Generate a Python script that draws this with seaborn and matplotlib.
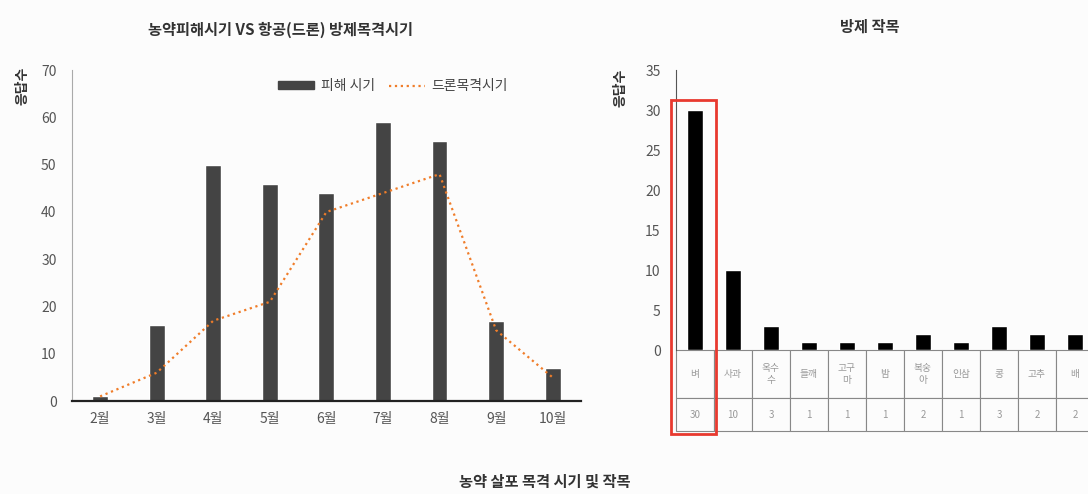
import seaborn as sns
import matplotlib.pyplot as plt
from matplotlib.patches import Rectangle, Patch
from matplotlib.lines import Line2D

sns.set_style('white')
plt.rcParams['font.family'] = ['Noto Sans CJK KR', 'DejaVu Sans']

# data
months = ['2월', '3월', '4월', '5월', '6월', '7월', '8월', '9월', '10월']
damage = [1, 16, 50, 46, 44, 59, 55, 17, 7]
drone_seen = [1, 6, 17, 21, 40, 44, 48, 15, 5]

crops = ['벼', '사과', '옥수\n수', '들깨', '고구\n마', '밤', '복숭\n아', '인삼', '콩', '고추', '배']
crop_counts = [30, 10, 3, 1, 1, 1, 2, 1, 3, 2, 2]

bar_gray = '#444444'
orange = '#f07d2a'
tick_gray = '#555555'

fig = plt.figure(figsize=(10.88, 4.94), dpi=100)
fig.patch.set_facecolor('#fcfcfc')

# left: damage period vs drone sighting
ax1 = fig.add_axes([0.066, 0.188, 0.468, 0.670])
ax1.set_facecolor('#fcfcfc')
sns.barplot(x=months, y=damage, color=bar_gray, width=0.28, ax=ax1, saturation=1)
sns.lineplot(x=list(range(len(months))), y=drone_seen, color=orange, linestyle=':',
             linewidth=1.6, ax=ax1)
ax1.set_xlim(-0.5, len(months) - 0.5)
ax1.set_ylim(0, 70)
ax1.set_yticks(range(0, 71, 10))
ax1.tick_params(axis='y', labelsize=10, colors=tick_gray, length=3, direction='in', pad=11)
ax1.tick_params(axis='x', labelsize=10, colors=tick_gray, length=0, pad=8)
for s in ['top', 'right']:
    ax1.spines[s].set_visible(False)
ax1.spines['left'].set_color('#aaaaaa')
ax1.spines['left'].set_linewidth(0.8)
ax1.spines['bottom'].set_color('#222222')
ax1.spines['bottom'].set_linewidth(1.6)

handles = [Patch(facecolor=bar_gray, edgecolor=bar_gray),
           Line2D([], [], color=orange, linestyle=':', linewidth=1.6)]
fig.legend(handles, ['피해 시기', '드론목격시기'], loc='center left',
           bbox_to_anchor=(265 / 1088, 1 - 86 / 494), ncol=2, frameon=False,
           fontsize=10, handlelength=2.6, handleheight=0.5, columnspacing=1.0,
           handletextpad=0.5, labelcolor='#444444')

fig.text(280 / 1088, 0.94, '농약피해시기 VS 항공(드론) 방제목격시기', ha='center',
         va='center', fontsize=11, color='#333333', weight='bold')
fig.text(22 / 1088, 1 - 86 / 494, '응답수', rotation=90, ha='center', va='center',
         fontsize=10, color='#333333', weight='bold')

# right: sprayed crops
ax2 = fig.add_axes([676 / 1088, 1 - 350 / 494, 418 / 1088, 280 / 494])
ax2.set_facecolor('#fcfcfc')
sns.barplot(x=list(range(len(crops))), y=crop_counts, color='black', width=0.42,
            ax=ax2, saturation=1)
ax2.set_xlim(-0.5, len(crops) - 0.5)
ax2.set_ylim(0, 35)
ax2.set_yticks(range(0, 36, 5))
ax2.set_xticks([])
ax2.tick_params(axis='y', labelsize=10, colors=tick_gray, length=3, direction='in', pad=11)
for s in ['top', 'right', 'bottom']:
    ax2.spines[s].set_visible(False)
ax2.spines['left'].set_color('#555555')
ax2.spines['left'].set_linewidth(0.8)

table_h = 0.29
tbl = ax2.table(cellText=[crops, [str(v) for v in crop_counts]], cellLoc='center',
                bbox=[0, -table_h, 1, table_h])
tbl.auto_set_font_size(False)
tbl.set_fontsize(7)
for (r, c), cell in tbl.get_celld().items():
    cell.set_edgecolor('#888888')
    cell.set_linewidth(0.8)
    cell.set_facecolor('#fcfcfc')
    cell.get_text().set_color('#999999')
    cell.set_height(0.171 if r == 0 else 0.118)

# highlight of the top crop
top = crop_counts[0]
y_bottom = -table_h * 35 - 0.3
ax2.add_patch(Rectangle((-0.62, y_bottom), 1.18, top + 1.2 - y_bottom, fill=False,
                        edgecolor='#e8392f', linewidth=2, clip_on=False, zorder=5))

fig.text(870 / 1088, 0.945, '방제 작목', ha='center', va='center', fontsize=11,
         color='#333333', weight='bold')
fig.text(621 / 1088, 1 - 88 / 494, '응답수', rotation=90, ha='center', va='center',
         fontsize=10, color='#333333', weight='bold')

fig.text(545 / 1088, 1 - 482 / 494, '농약 살포 목격 시기 및 작목', ha='center',
         va='center', fontsize=11, color='#333333', weight='bold')

fig.savefig('out.png', dpi=100, facecolor=fig.get_facecolor())
